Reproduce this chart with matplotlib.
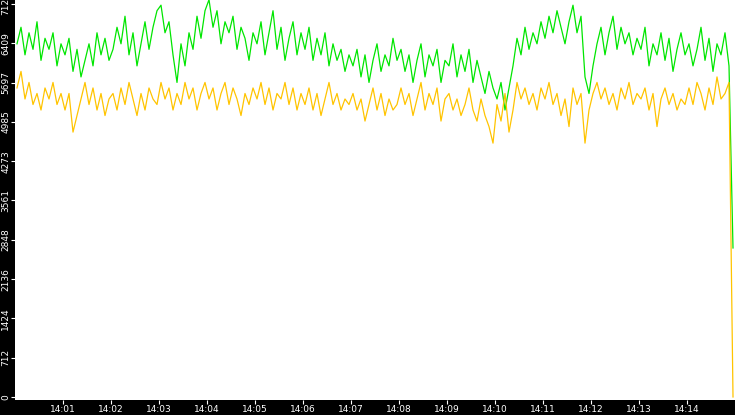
import matplotlib
matplotlib.use("Agg")
import matplotlib.pyplot as plt
import numpy as np

# values in hundreds, one point every 5 seconds from 14:00:00
green = [
    64, 67, 62, 66, 63, 68, 61, 65, 63, 66, 60, 64,
    62, 65, 59, 63, 58, 61, 64, 60, 66, 62, 65, 61,
    63, 67, 64, 69, 62, 66, 60, 64, 68, 63, 67, 70,
    71, 66, 68, 62, 57, 64, 60, 66, 63, 69, 65, 70,
    72, 67, 70, 64, 68, 66, 69, 63, 67, 65, 61, 66,
    64, 68, 62, 66, 70, 63, 67, 61, 65, 68, 62, 66,
    63, 67, 61, 65, 62, 66, 60, 64, 61, 63, 59, 62,
    60, 63, 58, 62, 57, 61, 64, 59, 62, 60, 65, 61,
    63, 59, 62, 57, 61, 64, 58, 62, 60, 63, 57, 61,
    60, 64, 58, 62, 59, 63, 57, 61, 58, 55, 59, 56,
    54, 57, 52, 56, 60, 65, 62, 67, 63, 66, 64, 68,
    65, 69, 66, 70, 67, 64, 68, 71, 66, 69, 58, 55,
    60, 64, 67, 62, 66, 69, 63, 67, 64, 66, 62, 65,
    63, 67, 60, 64, 62, 66, 61, 65, 59, 63, 66, 62,
    64, 60, 63, 67, 61, 65, 59, 64, 62, 66, 60, 27,
]
yellow = [
    56, 59, 54, 57, 53, 55, 52, 56, 54, 57, 53, 55,
    52, 55, 48, 51, 54, 57, 53, 56, 52, 55, 51, 54,
    55, 52, 56, 53, 57, 54, 51, 55, 52, 56, 54, 53,
    57, 54, 56, 52, 55, 53, 57, 54, 56, 52, 55, 57,
    54, 56, 52, 55, 57, 53, 56, 54, 51, 55, 53, 56,
    54, 57, 53, 56, 52, 55, 54, 57, 53, 56, 52, 55,
    53, 56, 52, 55, 51, 54, 57, 53, 55, 52, 54, 53,
    55, 52, 54, 50, 53, 56, 52, 55, 51, 54, 52, 53,
    56, 53, 55, 51, 54, 57, 52, 55, 53, 56, 50, 54,
    55, 52, 54, 51, 53, 56, 52, 50, 54, 51, 49, 46,
    53, 50, 55, 48, 52, 57, 54, 56, 53, 55, 52, 56,
    54, 57, 53, 55, 51, 54, 49, 56, 53, 55, 46, 52,
    55, 57, 54, 56, 53, 55, 52, 56, 54, 57, 53, 55,
    54, 56, 52, 55, 49, 54, 56, 53, 55, 52, 54, 53,
    56, 53, 57, 55, 52, 56, 53, 58, 54, 55, 57, 0,
]
yticks = [0, 712, 1424, 2136, 2848, 3561, 4273, 4985, 5697, 6409, 7122]
xlabels = ["14:%02d" % m for m in range(1, 15)]

t = np.arange(len(green)) * 5 + 2.5
g = np.array(green) * 100
y = np.array(yellow) * 100

fig = plt.figure(figsize=(7.35, 4.15), dpi=100, facecolor="black")
ax = fig.add_axes([15 / 735, 15 / 415, 720 / 735, 400 / 415])
ax.set_facecolor("white")
ax.plot(t, g, color="#00e600", lw=0.9)
ax.plot(t, y, color="#ffc400", lw=0.9)
ax.set_xlim(0, 900)
ax.set_ylim(-55, 7194)
ax.set_yticks(yticks)
ax.set_yticklabels([str(v) for v in yticks], rotation=90, va="center")
ax.set_xticks(np.arange(1, 15) * 60)
ax.set_xticklabels(xlabels)
ax.tick_params(colors="white", labelsize=6.5, length=3, pad=0.5)
for s in ax.spines.values():
    s.set_visible(False)
fig.savefig("out.png", facecolor="black")
